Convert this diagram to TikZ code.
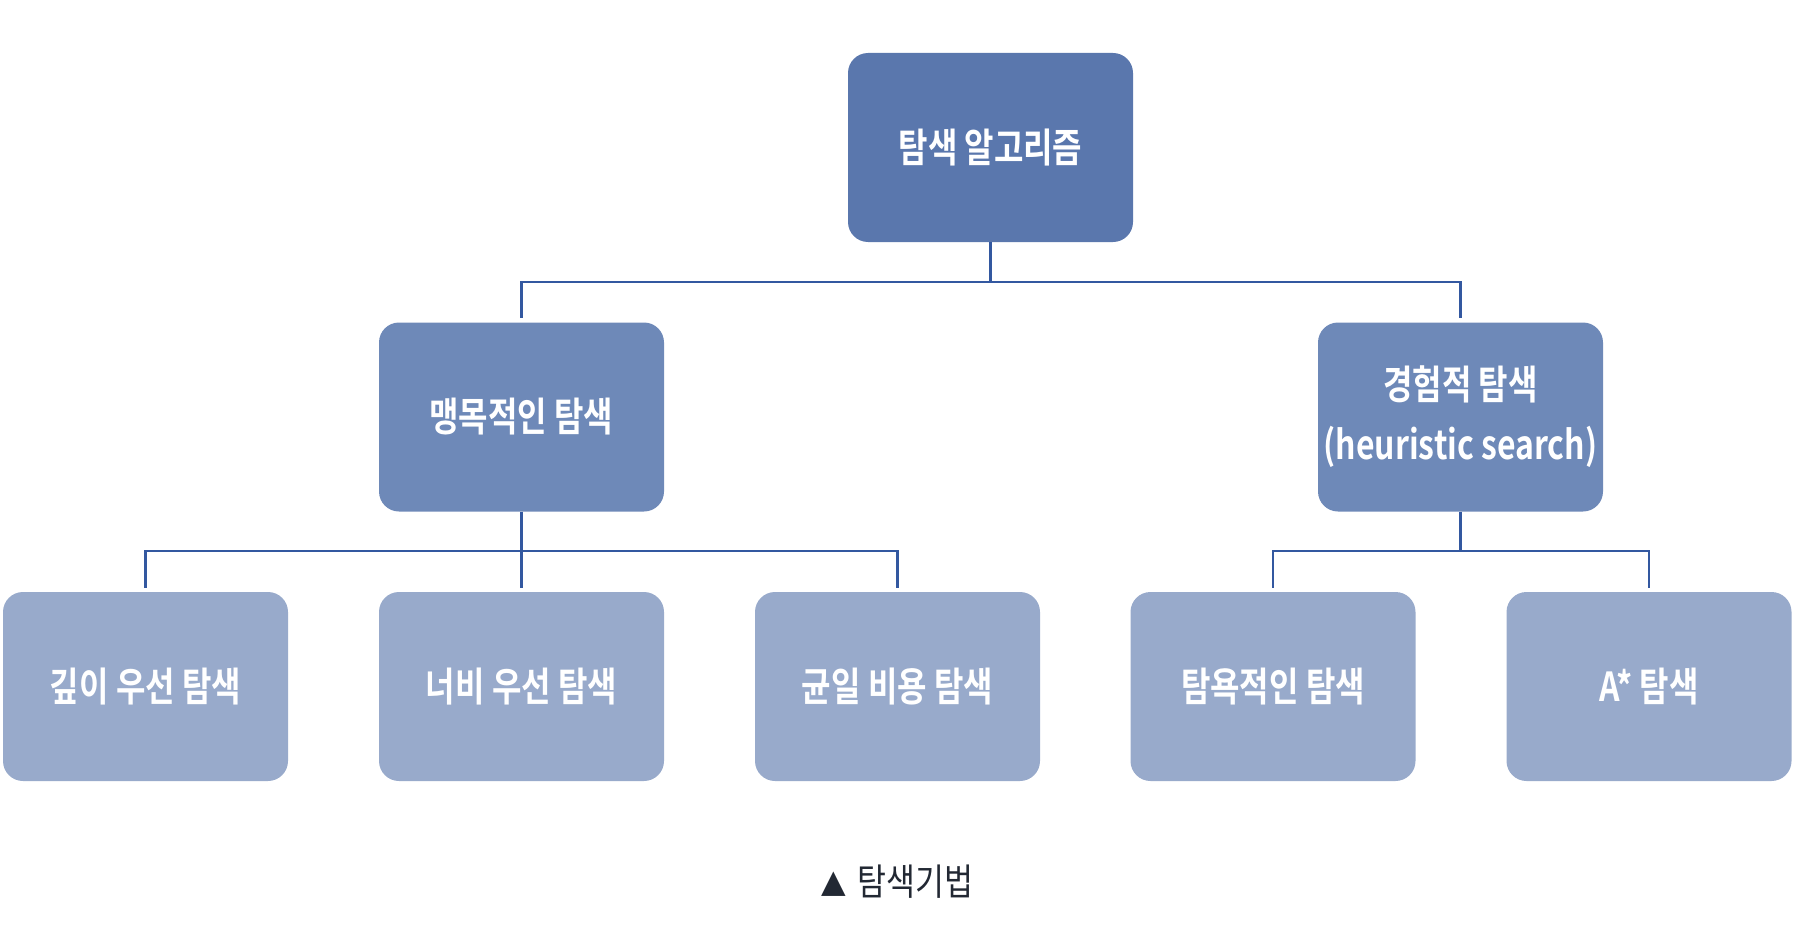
\documentclass[tikz,border=0pt]{standalone}
\usepackage{fontspec}
\newfontfamily\krb[FakeStretch=0.8]{Noto Sans CJK KR Bold}
\newfontfamily\krr[FakeStretch=0.85]{Noto Sans CJK KR}
\newfontfamily\symf{DejaVu Sans}
\definecolor{cTop}{HTML}{5A77AD}
\definecolor{cMid}{HTML}{6E89B8}
\definecolor{cBot}{HTML}{98AACB}
\definecolor{cLine}{HTML}{3358A0}
\definecolor{cCap}{HTML}{222833}
\tikzset{
  box/.style={rounded corners=20pt, minimum width=285pt, minimum height=189pt,
    inner sep=0pt, text=white, align=center, font=\krb\fontsize{40}{60}\selectfont},
  topbox/.style={box, fill=cTop},
  midbox/.style={box, fill=cMid},
  botbox/.style={box, fill=cBot},
  conn/.style={draw=cLine, line width=2.4pt},
}
\begin{document}
\begin{tikzpicture}[x=1pt, y=-1pt]
\useasboundingbox (0,0) rectangle (1795,928);
\node[topbox] (top) at (990.5,147.5) {탐색 알고리즘};
\node[midbox] (ml) at (521.5,417) {맹목적인 탐색};
\node[midbox] (mr) at (1460.5,417) {경험적 탐색\\(heuristic search)};
\node[botbox] (b1) at (145.5,686.5) {깊이 우선 탐색};
\node[botbox] (b2) at (521.5,686.5) {너비 우선 탐색};
\node[botbox] (b3) at (897.5,686.5) {균일 비용 탐색};
\node[botbox] (b4) at (1273,686.5) {탐욕적인 탐색};
\node[botbox] (b5) at (1649,686.5) {A* 탐색};
\node[text=cCap, font=\krr\fontsize{37}{40}\selectfont] (cap) at (897.5,882) {\raisebox{3pt}{\symf\fontsize{32}{36}\selectfont ▲}\hspace{12pt}탐색기법};
% connectors
\draw[conn] (top.south) -- ++(0,40) -| ([yshift=4pt]ml.north);
\draw[conn] (top.south) ++(0,40) -| ([yshift=4pt]mr.north);
\draw[conn] (ml.south) -- ++(0,39) -| ([yshift=4pt]b1.north);
\draw[conn] (ml.south) ++(0,39) -- ([yshift=4pt]b2.north);
\draw[conn] (ml.south) ++(0,39) -| ([yshift=4pt]b3.north);
\draw[conn] (mr.south) -- ++(0,39) -| ([yshift=4pt]b4.north);
\draw[conn] (mr.south) ++(0,39) -| ([yshift=4pt]b5.north);
\end{tikzpicture}
\end{document}
